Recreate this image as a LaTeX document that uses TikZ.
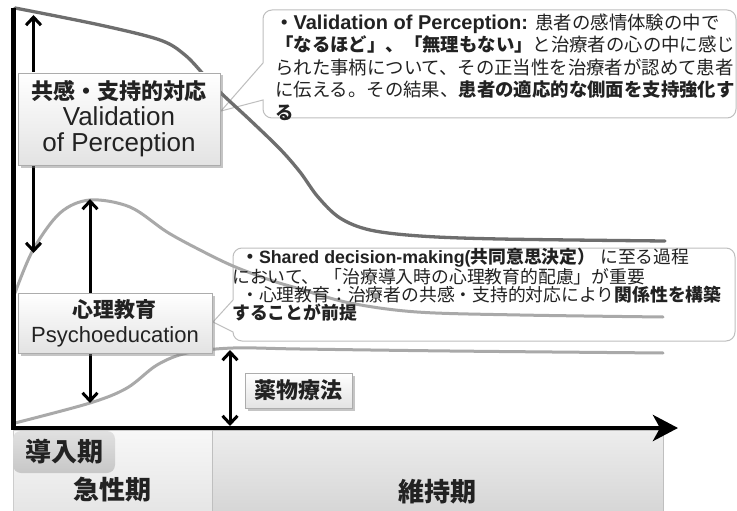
\documentclass[tikz,border=0pt]{standalone}
\usepackage{fontspec}
\setmainfont{Liberation Sans}
\newfontfamily\cjkA{Noto Sans CJK JP}[Scale=0.92]
\newfontfamily\cjkB{Noto Sans CJK JP}
\newcommand\jpa[1]{{\cjkA #1}}
\newcommand\jpb[1]{{\cjkB #1}}
\usetikzlibrary{arrows.meta,shadows}
\definecolor{txt}{HTML}{222222}
\definecolor{curveA}{HTML}{6E6E6E}
\definecolor{curveB}{HTML}{A9A9A9}
\definecolor{callline}{HTML}{BEBEBE}
\begin{document}
\begin{tikzpicture}[x=1pt,y=-1pt,
  curveup/.style={draw=curveA,line width=3.3pt,line cap=round},
  curvelow/.style={draw=curveB,line width=3pt,line cap=round},
  dblarrow/.style={line width=3pt,{Straight Barb[length=8pt,width=15pt]}-{Straight Barb[length=8pt,width=15pt]}},
  axisline/.style={line width=4.6pt,line join=miter,-{Stealth[length=25pt,width=26pt,inset=7pt]}},
  labelbox/.style={draw=gray!65,line width=0.6pt,top color=white,bottom color=gray!22,
    drop shadow={shadow xshift=2.5pt,shadow yshift=-2.5pt,opacity=0.45,fill=gray},
    inner sep=0pt,text=txt,align=center},
  callout/.style={draw=callline,line width=1pt,fill=white},
  calltext/.style={inner sep=0pt,align=left,text=txt,anchor=west},
  phase/.style={inner sep=0pt,text=txt,font=\fontsize{26}{26}\selectfont\cjkB\bfseries}
]
\useasboundingbox (0,0) rectangle (737,511);
\fill[white] (0,0) rectangle (737,511);

% bottom band
\shade[top color=black!3,bottom color=black!10,draw=gray!40,line width=0.6pt] (13,430) rectangle (212,511);
\shade[top color=black!7,bottom color=black!16,draw=gray!50,line width=0.6pt] (212,430) rectangle (663,511);
\node[phase] (acute) at (112,490) {急性期};
\node[phase] (maint) at (437,492) {維持期};
\node[phase,rounded corners=8pt,top color=black!12,bottom color=black!22,
      minimum width=102pt,minimum height=42pt] (intro) at (64,452) {導入期};

% callouts
\draw[callout] (263,63) [rounded corners=9pt] -- (263,10) -- (736,10) -- (736,118) -- (263,118)
  [sharp corners] -- (263,100) -- (221,111) -- cycle;
\draw[callout] (233,300) [rounded corners=9pt] -- (233,248) -- (735,248) -- (735,341) -- (233,341)
  [sharp corners] -- (233,332) -- (213,322) -- cycle;

% curves
\draw[curveup] plot[smooth,tension=0.55] coordinates {(15,8) (100,25) (160,40) (185,55) (205,76) (222,94) (250,120) (280,149) (300,172) (318,197) (340,218) (370,230) (420,236) (500,239) (665,241)};
\draw[curvelow] plot[smooth,tension=0.55] coordinates {(15,293) (33,250) (60,213) (90,200) (130,207) (167,232) (200,250) (233,266) (270,280) (300,289) (350,303) (417,312) (520,315) (663,317)};
\draw[curvelow] plot[smooth,tension=0.55] coordinates {(15,423) (90,403) (127,388) (157,365) (187,353) (233,348) (300,349) (450,351) (663,353)};

% double arrows
\coordinate (a1t) at (33.5,15);  \coordinate (a1b) at (33.5,253);
\coordinate (a2t) at (90,199);   \coordinate (a2b) at (90,403);
\coordinate (a3t) at (230,350);  \coordinate (a3b) at (230,426);
\draw[dblarrow] (a1t) -- (a1b);
\draw[dblarrow] (a2t) -- (a2b);
\draw[dblarrow] (a3t) -- (a3b);

% labelled boxes
\node[labelbox,minimum width=202pt,minimum height=92pt,font=\fontsize{26}{26}\selectfont] (vbox) at (119,119)
  {{\fontsize{22}{26}\selectfont\cjkB\bfseries 共感・支持的対応}\\Validation\\of Perception};
\node[labelbox,minimum width=194pt,minimum height=60pt,font=\fontsize{22}{25}\selectfont] (pbox) at (115,323)
  {{\fontsize{21}{25}\selectfont\cjkB\bfseries 心理教育}\\Psychoeducation};
\node[labelbox,minimum width=107pt,minimum height=35pt,font=\fontsize{22}{22}\selectfont\cjkB\bfseries] (dbox) at (298.5,390.5)
  {薬物療法};

% axes
\coordinate (ytop) at (13.5,8);
\coordinate (origin) at (13.5,428);
\coordinate (xend) at (678,428);
\draw[axisline] (ytop) -- (origin) -- (xend);

% callout texts
\node[calltext,font=\fontsize{20}{22.5}\selectfont] (t1) at (275,67) {%
  \textbf{\jpa{・}Validation of Perception:} \jpa{患者の感情体験の中で}\\
  \textbf{\jpa{「なるほど」、「無理もない」}}\jpa{と治療者の心の中に感じ}\\
  \jpa{られた事柄について、その正当性を治療者が認めて患者}\\
  \jpa{に伝える。その結果、}\textbf{\jpa{患者の適応的な側面を支持強化す}}\\
  \textbf{\jpa{る}}};
\node[calltext,font=\fontsize{17.8}{18}\selectfont] (t2) at (232,285) {%
  \hspace*{9pt}\textbf{\jpb{・}Shared decision-making(\jpb{共同意思決定）}} \jpb{に至る過程}\\
  \jpb{において、} \jpb{「治療導入時の心理教育的配慮」が重要}\\
  \hspace*{9pt}\jpb{・心理教育：治療者の共感・支持的対応により}\textbf{\jpb{関係性を構築}}\\
  \textbf{\jpb{することが前提}}};
\end{tikzpicture}
\end{document}
